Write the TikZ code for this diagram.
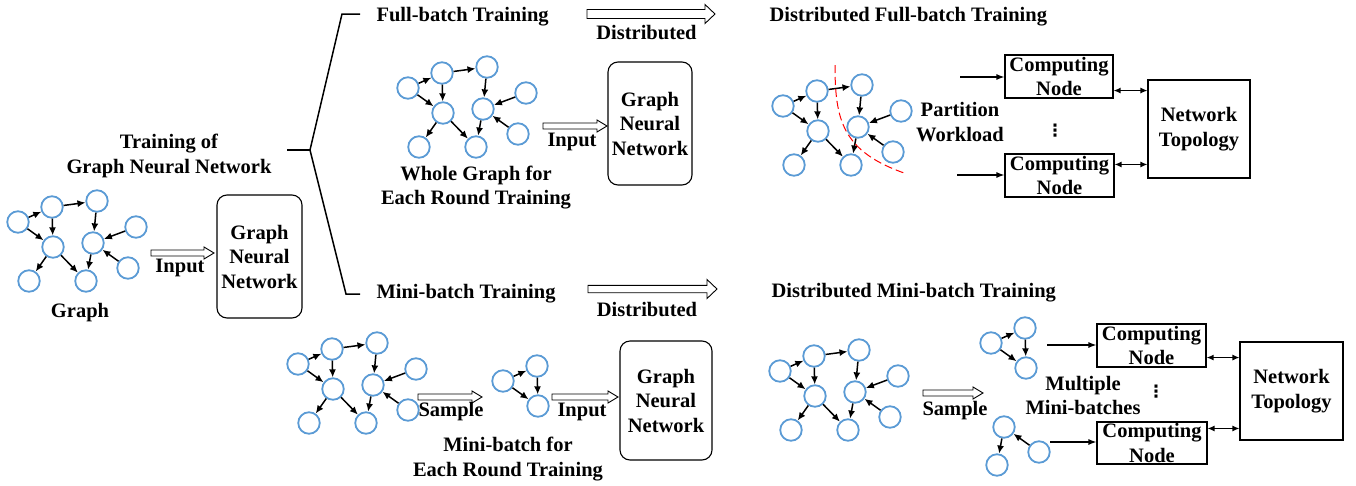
\documentclass[tikz,border=0pt]{standalone}
\usepackage{fontspec}
\setmainfont{Liberation Serif}
\newfontfamily\dotsfont{DejaVu Sans}
\usetikzlibrary{arrows.meta,positioning}

\definecolor{vtxblue}{RGB}{91,155,213}

\tikzset{
  vtx/.style={circle, draw=vtxblue, line width=1.8pt, minimum size=21.5pt, inner sep=0pt},
  link/.style={-{Latex[length=8pt,width=7pt]}, line width=1.5pt},
  gnnbox/.style={draw, rounded corners=10pt, line width=1.1pt, align=center, inner sep=0pt},
  cnbox/.style={draw, line width=1.1pt, align=center, inner sep=0pt},
  fatarrow/.style={draw, line width=0.9pt},
  feed/.style={-{Latex[length=8pt,width=6pt]}, line width=1.3pt},
  duplex/.style={{Latex[length=7pt,width=6pt]}-{Latex[length=7pt,width=6pt]}, line width=1.3pt},
  bracket/.style={line width=1.5pt},
  cutline/.style={draw=red, line width=1pt, dash pattern=on 8pt off 4pt},
}

\newcommand{\fullnodes}{a/18/222, b/52/207, c/97/201, d/53/247, e/93/243, f/136/227, g/29/281, h/86/281, i/128/268}
\newcommand{\fulledges}{a/b, b/c, b/d, a/d, c/e, f/e, i/e, d/g, d/h, e/h}

% prefix, shift x, shift y, nodes, edges
\newcommand{\gnngraph}[5]{
  \begin{scope}[shift={(#2,#3)}]
    \foreach \n/\x/\y in #4
      \node[vtx] (#1\n) at (\x,\y) {};
    \foreach \s/\t in #5
      \draw[link] (#1\s) -- (#1\t);
  \end{scope}}

% start, length, half body, half head
\newcommand{\hollowarrow}[4]{
  \draw[fatarrow] (#1) -- ++(0,-#3) -- ++({#2-10},0) -- ++(0,{#3-#4}) -- ++(10,#4)
    -- ++(-10,#4) -- ++(0,{#3-#4}) -- ++({10-#2},0) -- cycle;}

\begin{document}
\begin{tikzpicture}[x=1pt, y=-1pt, font=\fontsize{20.5}{24.5}\selectfont\bfseries]
  \useasboundingbox (0,0) rectangle (1356,485);

  % whole graph and gnn
  \node[align=center] (title) at (169,155.8) {Training of\\Graph Neural Network};
  \gnngraph{g0-}{0}{0}{\fullnodes}{\fulledges}
  \node[anchor=base] (graphlbl) at (80,317) {Graph};
  \coordinate (in0) at (151,253);
  \hollowarrow{in0}{63}{3}{6}
  \node[anchor=base] (inlbl0) at (180,272) {Input};
  \node[gnnbox, minimum width=85pt, minimum height=123pt] (gnn0) at (259.5,256.5) {Graph\\Neural\\Network};

  \coordinate (split) at (310,150);
  \draw[line width=2.5pt] (287,150) -- (split);
  \draw[bracket] (360,14) -- (342,14) -- (split) -- (346,294) -- (360,294);

  % full-batch
  \node[anchor=base west] (fullhd) at (373,21.7) {Full-batch Training};
  \coordinate (dist1) at (587,14);
  \hollowarrow{dist1}{128}{4.5}{9.5}
  \node[anchor=base] (distlbl1) at (646.5,39.3) {Distributed};
  \node[anchor=base west] (dfullhd) at (766,21.7) {Distributed Full-batch Training};

  \gnngraph{g1-}{390}{-134}{\fullnodes}{\fulledges}
  \node[align=center] (wholelbl) at (476,187.5) {Whole Graph for\\Each Round Training};
  \coordinate (in1) at (543,126);
  \hollowarrow{in1}{64}{3}{6}
  \node[anchor=base] (inlbl1) at (572,146) {Input};
  \node[gnnbox, minimum width=84pt, minimum height=123pt] (gnn1) at (650,123.5) {Graph\\Neural\\Network};

  \gnngraph{g2-}{765}{-116}{\fullnodes}{\fulledges}
  \draw[cutline] (835,65) .. controls (835,120) and (842,152) .. (907,174);
  \node[align=center] (partlbl) at (960,122) {Partition\\Workload};
  \node[cnbox, minimum width=108pt, minimum height=43pt] (cn1) at (1059,76.5) {Computing\\Node};
  \node[cnbox, minimum width=109pt, minimum height=43pt] (cn2) at (1059.5,175.5) {Computing\\Node};
  \node[cnbox, minimum width=102pt, minimum height=98pt] (nt1) at (1199,129) {Network\\Topology};
  \node[inner sep=0pt, font=\fontsize{17}{20}\selectfont\dotsfont\bfseries] (dots1) at (1055,131) {⋮};
  \coordinate (wl1) at (960,77);
  \coordinate (wl2) at (957,175);
  \draw[feed] (wl1) -- (wl1 -| cn1.west);
  \draw[feed] (wl2) -- (wl2 -| cn2.west);
  \coordinate (lk1) at ([yshift=8pt]cn1.south east);
  \coordinate (lk2) at ([yshift=-11pt]cn2.north east);
  \draw[duplex] (lk1) -- (lk1 -| nt1.west);
  \draw[duplex] (lk2) -- (lk2 -| nt1.west);

  % mini-batch
  \node[anchor=base west] (minihd) at (373,298.3) {Mini-batch Training};
  \coordinate (dist2) at (588,289);
  \hollowarrow{dist2}{129}{3.7}{9.5}
  \node[anchor=base] (distlbl2) at (647,316.7) {Distributed};
  \node[anchor=base west] (dminihd) at (768,297.3) {Distributed Mini-batch Training};

  \gnngraph{g3-}{280}{142}{\fullnodes}{\fulledges}
  \coordinate (smp1) at (418,397);
  \hollowarrow{smp1}{64}{3}{6}
  \node[anchor=base] (smplbl1) at (451,416.7) {Sample};
  \gnngraph{mb0-}{485}{159}{{a/18/222, b/52/207, d/53/247}}{{a/b, b/d, a/d}}
  \coordinate (in2) at (552,397);
  \hollowarrow{in2}{66}{3}{6}
  \node[anchor=base] (inlbl2) at (582,416.7) {Input};
  \node[align=center] (minilbl) at (508,459.2) {Mini-batch for\\Each Round Training};
  \node[gnnbox, minimum width=92pt, minimum height=119pt] (gnn2) at (666,400.5) {Graph\\Neural\\Network};

  \gnngraph{g4-}{762}{149}{\fullnodes}{\fulledges}
  \coordinate (smp2) at (923,393);
  \hollowarrow{smp2}{60}{3}{6}
  \node[anchor=base] (smplbl2) at (955,415) {Sample};
  \gnngraph{mb1-}{973}{121}{{a/18/222, b/52/207, d/53/247}}{{a/b, b/d, a/d}}
  \gnngraph{mb2-}{911}{184}{{e/93/243, i/128/268, h/86/281}}{{i/e, e/h}}
  \node[align=center] (multilbl) at (1083,395.3) {Multiple\\Mini-batches};
  \node[cnbox, minimum width=109pt, minimum height=43pt] (cn3) at (1151.5,345.5) {Computing\\Node};
  \node[cnbox, minimum width=110pt, minimum height=42pt] (cn4) at (1152,443) {Computing\\Node};
  \node[cnbox, minimum width=103pt, minimum height=98pt] (nt2) at (1291.5,391) {Network\\Topology};
  \node[inner sep=0pt, font=\fontsize{17}{20}\selectfont\dotsfont\bfseries] (dots2) at (1156,391.5) {⋮};
  \coordinate (wl3) at (1047,345);
  \coordinate (wl4) at (1050,442);
  \draw[feed] (wl3) -- (wl3 -| cn3.west);
  \draw[feed] (wl4) -- (wl4 -| cn4.west);
  \coordinate (lk3) at ([yshift=10pt]cn3.south east);
  \coordinate (lk4) at ([yshift=-7pt]cn4.north east);
  \draw[duplex] (lk3) -- (lk3 -| nt2.west);
  \draw[duplex] (lk4) -- (lk4 -| nt2.west);
\end{tikzpicture}
\end{document}
